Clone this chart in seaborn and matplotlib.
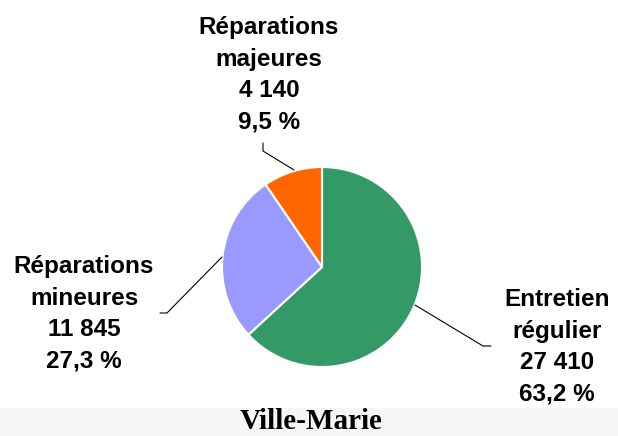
import matplotlib
matplotlib.use("Agg")
import matplotlib.pyplot as plt
import seaborn as sns

# data
categories = ["Entretien\nrégulier", "Réparations\nmineures", "Réparations\nmajeures"]
values = [27410, 11845, 4140]
colors = ["#339966", "#9999FF", "#FF6600"]
title = "Ville-Marie"

W, H = 618, 436


def py(y):
    # pixel row (from top) -> data y
    return H - y


def fmt_num(v):
    return f"{v:,}".replace(",", " ")


def fmt_pct(p):
    return f"{p:.1f}".replace(".", ",") + " %"


sns.set_theme(style="white")
plt.rcParams['font.family'] = ['Liberation Sans', 'DejaVu Sans']

fig = plt.figure(figsize=(W / 100, H / 100), dpi=100)
ax = fig.add_axes([0, 0, 1, 1])

ax.pie(values, colors=colors, startangle=90, counterclock=False,
       center=(322, py(267)), radius=100,
       wedgeprops=dict(edgecolor="white", linewidth=1.5))

# label layout: text centre + leader polyline (pixel coords)
layout = [
    dict(xy=(557, 347), line=[(415, 305), (483, 346), (491, 346)]),
    dict(xy=(84, 314), line=[(222, 257), (167, 313), (160, 313)]),
    dict(xy=(269, 75), line=[(294, 170), (263, 151), (263, 143)]),
]

total = sum(values)
for cat, val, lay in zip(categories, values, layout):
    txt = f"{cat}\n{fmt_num(val)}\n{fmt_pct(val / total * 100)}"
    ax.text(lay["xy"][0], py(lay["xy"][1]), txt, ha="center", va="center",
            fontsize=17.5, fontweight="bold", color="black", linespacing=1.47)
    xs = [p[0] for p in lay["line"]]
    ys = [py(p[1]) for p in lay["line"]]
    ax.plot(xs, ys, color="black", linewidth=0.8)

# light band at the bottom with the title
ax.axhspan(0, py(408), color="#f6f6f6", zorder=0)
ax.text(311, py(435), title, ha="center", va="bottom", fontsize=21,
        fontweight="bold", color="black",
        family=["Liberation Serif", "DejaVu Serif"])

ax.set_xlim(0, W)
ax.set_ylim(0, H)
ax.set_aspect("auto")
ax.axis("off")

fig.savefig("out.png", dpi=100)
